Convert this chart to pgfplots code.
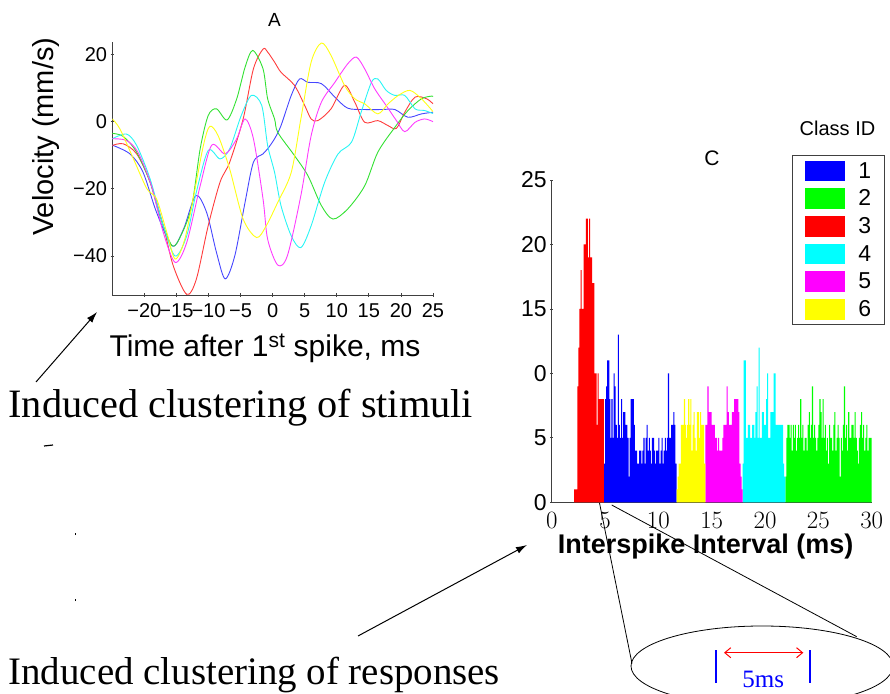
\documentclass[border=0pt]{standalone}
\usepackage{fontspec}
\setmainfont{Liberation Serif}
\newfontfamily\arial{Liberation Sans}
\usepackage{pgfplots}
\pgfplotsset{compat=1.18}
\usetikzlibrary{arrows.meta}
\definecolor{cgreen}{RGB}{0,255,0}
\definecolor{cblue}{RGB}{0,0,255}
\definecolor{cred}{RGB}{255,0,0}
\definecolor{ccyan}{RGB}{0,255,255}
\definecolor{cmag}{RGB}{255,0,255}
\definecolor{cyel}{RGB}{255,255,0}
\definecolor{lblue}{RGB}{70,70,255}
\definecolor{lred}{RGB}{255,60,60}
\definecolor{lgreen}{RGB}{50,225,50}
\definecolor{lcyan}{RGB}{40,245,245}
\definecolor{lmag}{RGB}{255,60,255}
\definecolor{lyel}{RGB}{255,255,20}
\begin{document}
\begin{tikzpicture}[x=1pt,y=1pt]
\path[use as bounding box] (0,0) rectangle (890,693);
% ---------------- Panel A ----------------
\begin{axis}[at={(112.3pt,398pt)}, anchor=south west, scale only axis,
  width=320.7pt, height=253pt,
  xmin=-25, xmax=25, ymin=-51.6, ymax=23.7,
  axis lines=left, axis line style={-, black!75, line width=0.8pt},
  xtick={-20,-15,...,25}, xticklabels={−20,−15,−10,−5,0,5,10,15,20,25},
  ytick={-40,-20,0,20}, yticklabels={−40,−20,0,20},
  tick style={black!75, line width=0.8pt}, major tick length=3.5pt,
  tick label style={font=\arial\fontsize{20}{20}\selectfont},
  xticklabel shift=3.5pt,
]
\addplot[lblue, line width=0.9pt, smooth] coordinates {(-25,-7.0) (-22.25,-9.6) (-20.2,-15.1) (-18.1,-27) (-15.65,-37) (-13.9,-32) (-12.0,-22) (-10.3,-27) (-8.75,-39) (-7.4,-46.8) (-5.9,-39.9) (-4.3,-24) (-3.0,-12.1) (-1.5,-9.6) (-0.78,-8.1) (0.3,-5.1) (1.3,-1.2) (2.9,7.8) (4.2,12.7) (5.5,11.7) (7.6,11.3) (9.7,7.3) (11.7,4.0) (14.35,3.6) (17.0,3.6) (19.05,3.6) (21.1,1.3) (23.2,2.3) (25,2.8)};
\addplot[lred, line width=0.9pt, smooth] coordinates {(-25,-7.1) (-23.3,-6.6) (-21.2,-9.6) (-19.1,-18) (-17.05,-31) (-15.5,-42.9) (-13.4,-51.4) (-11.9,-46.9) (-10.05,-31) (-8.2,-18) (-6.7,-12.1) (-4.6,0.8) (-3.0,15.7) (-1.5,21.6) (-0.78,20.7) (0.3,17.7) (1.3,14.7) (3.4,10.8) (5.0,4.8) (6.0,0.8) (7.05,0.3) (9.1,3.8) (11.2,10.8) (12.8,5.8) (14.35,-0.2) (16.4,0.3) (18.0,-1.2) (19.3,-2.0) (20.6,2.8) (22.2,7.3) (24.0,6.8) (25,5.3)};
\addplot[lgreen, line width=0.9pt, smooth] coordinates {(-25,-3.5) (-23.3,-4.4) (-21.2,-9.1) (-19.1,-18.1) (-17.6,-28) (-15.65,-37) (-14.2,-33.5) (-12.6,-25) (-11.3,-8.1) (-10.05,1.8) (-8.75,3.8) (-7.1,0.5) (-5.6,6.8) (-4.3,16.2) (-3.1,21.2) (-1.5,15.7) (-0.78,6.8) (0.3,0.8) (0.8,-3.2) (3.4,-10.1) (5.5,-16.1) (7.6,-25) (9.4,-29) (11.7,-26) (14.35,-19.1) (16.4,-9.1) (19.05,-1.7) (21.1,3.3) (23.2,6.8) (24.8,7.6) (25,7.4)};
\addplot[lcyan, line width=0.9pt, smooth] coordinates {(-25,-5.1) (-22.8,-3.7) (-21.2,-7.1) (-19.1,-17.1) (-17.05,-31) (-15.2,-40) (-13.4,-34) (-11.9,-21) (-10.05,-8.6) (-8.2,-11.1) (-6.7,-8.1) (-4.9,1.8) (-3.3,7.8) (-1.7,4.8) (-0.78,-7.1) (0.3,-15.1) (1.3,-25) (2.9,-34) (4.4,-37.5) (6.0,-31) (8.1,-18.1) (10.2,-9.6) (12.3,-6.1) (13.8,2.8) (15.4,11.7) (16.4,12.7) (17.7,9.3) (19.05,7.8) (20.6,7.8) (22.2,3.8) (23.7,3.3) (25,2.4)};
\addplot[lmag, line width=0.9pt, smooth] coordinates {(-25,-5.1) (-22.8,-5.6) (-21.0,-9.1) (-18.9,-19.1) (-17.05,-33) (-15.2,-41.9) (-13.4,-36) (-11.3,-19.1) (-9.5,-7.0) (-7.4,-9.6) (-5.6,-5.1) (-4.3,0.8) (-3.0,-5.1) (-1.5,-23) (-0.78,-35) (0.8,-42.7) (2.3,-39.9) (4.4,-22) (6.0,-4.2) (7.6,5.8) (9.7,11.7) (11.7,17.2) (13.05,19.2) (14.35,15.7) (15.9,9.8) (17.7,4.8) (19.3,0.3) (20.6,-3.0) (22.2,-0.2) (23.7,0.8) (25,0.0)};
\addplot[lyel, line width=0.9pt, smooth] coordinates {(-25,0.8) (-23.8,-2.2) (-21.7,-11.1) (-19.6,-20) (-18.1,-23) (-16.5,-33) (-15.2,-40.9) (-13.7,-35) (-12.1,-20) (-10.8,-7.1) (-9.8,-1.4) (-8.5,-4.2) (-6.7,-14.1) (-4.6,-29) (-2.5,-34.5) (-1.0,-31) (0.8,-24) (2.9,-15.1) (4.4,0.8) (6.0,17.7) (7.6,23.4) (9.1,19.7) (11.2,10.8) (12.8,6.8) (14.35,5.3) (16.4,2.3) (18.0,5.3) (19.6,7.8) (21.4,9.3) (23.2,6.8) (25,3.0)};
\end{axis}
% ---------------- Panel C ----------------
\begin{axis}[at={(551.7pt,190.7pt)}, anchor=south west, scale only axis,
  width=320pt, height=322.3pt,
  xmin=0, xmax=30, ymin=0, ymax=25,
  axis lines=left, axis line style={-, black!75, line width=0.8pt},
  xtick={0,5,...,30}, ytick={0,5,...,25}, yticklabels={0,5,0,15,20,25},
  x tick style={draw=none}, y tick style={black!75, line width=0.8pt},
  major tick length=3pt,
  tick label style={font=\arial\fontsize{23}{23}\selectfont},
  xticklabel shift=5pt,
  legend image code/.code={\fill[#1] (0pt,-10.35pt) rectangle (40pt,10.35pt); \path (53pt,0pt);},
  legend style={at={(0.75,1.0776)}, anchor=north west, draw=black!75, line width=1.2pt,
    fill=white, inner xsep=13pt, inner ysep=5pt, row sep=7pt,
    font=\arial\fontsize{23}{23}\selectfont, nodes={inner sep=0pt}},
  legend cell align=left,
]
\addplot[fill=cblue, draw=none, const plot mark left] table[row sep=\\, x expr=4.9+0.1*\coordindex, y index=0] {3\\8\\9\\11\\11\\8\\5\\8\\5\\10\\9\\6\\5\\13\\6\\5\\8\\5\\7\\7\\6\\6\\5\\2\\5\\8\\8\\8\\6\\4\\4\\3\\3\\4\\4\\3\\4\\5\\3\\5\\6\\4\\5\\4\\3\\5\\5\\4\\3\\4\\4\\5\\3\\4\\5\\3\\4\\5\\4\\5\\10\\5\\5\\6\\6\\7\\6\\3\\3\\} \closedcycle;
\addlegendentry{1}
\addplot[fill=cgreen, draw=none, const plot mark left] table[row sep=\\, x expr=21.9+0.1*\coordindex, y index=0] {2\\5\\6\\6\\5\\6\\4\\6\\5\\6\\4\\5\\6\\5\\8\\5\\6\\4\\5\\5\\4\\6\\7\\5\\6\\9\\5\\6\\5\\4\\5\\6\\8\\7\\5\\8\\5\\6\\4\\5\\3\\6\\5\\5\\4\\6\\7\\4\\5\\6\\5\\2\\5\\4\\6\\9\\5\\6\\4\\7\\5\\5\\6\\6\\5\\7\\5\\4\\3\\5\\6\\7\\5\\6\\4\\5\\6\\4\\5\\5\\5\\5\\} \closedcycle;
\addlegendentry{2}
\addplot[fill=cred, draw=none, const plot mark left] table[row sep=\\, x expr=2.1+0.1*\coordindex, y index=0] {1\\1\\1\\9\\12\\15\\18\\15\\15\\20\\20\\22\\22\\19\\22\\19\\19\\17\\17\\10\\10\\6\\10\\8\\8\\8\\8\\8\\8\\} \closedcycle;
\addlegendentry{3}
\addplot[fill=ccyan, draw=none, const plot mark left] table[row sep=\\, x expr=17.9+0.1*\coordindex, y index=0] {3\\11\\11\\5\\5\\6\\6\\5\\5\\6\\6\\5\\7\\9\\5\\12\\5\\5\\7\\7\\6\\6\\8\\10\\5\\5\\7\\7\\7\\10\\10\\6\\6\\6\\6\\6\\6\\6\\3\\2\\2\\} \closedcycle;
\addlegendentry{4}
\addplot[fill=cmag, draw=none, const plot mark left] table[row sep=\\, x expr=14.4+0.1*\coordindex, y index=0] {6\\6\\9\\7\\7\\7\\6\\6\\6\\5\\5\\4\\5\\4\\4\\4\\5\\6\\6\\6\\9\\7\\6\\6\\6\\7\\7\\8\\8\\8\\8\\7\\3\\2\\1\\1\\} \closedcycle;
\addlegendentry{5}
\addplot[fill=cyel, draw=none, const plot mark left] table[row sep=\\, x expr=11.7+0.1*\coordindex, y index=0] {1\\2\\3\\3\\6\\6\\6\\8\\6\\5\\6\\8\\6\\8\\4\\6\\7\\5\\4\\7\\7\\5\\7\\6\\6\\6\\3\\3\\} \closedcycle;
\addlegendentry{6}
\end{axis}
% ---------------- Texts ----------------
\node[font=\arial\fontsize{19}{19}\selectfont, anchor=base] at (274.5,666) {A};
\node[font=\arial\fontsize{29}{29}\selectfont, rotate=90, anchor=base] at (53,556.3) {Velocity (mm/s)};
\node[font=\arial\fontsize{30}{30}\selectfont, anchor=base] at (265,336) {Time after 1\textsuperscript{st} spike, ms};
\node[font=\arial\fontsize{21}{21}\selectfont, anchor=base] at (712,527.3) {C};
\node[font=\arial\fontsize{20}{20}\selectfont, anchor=base] at (837.5,557) {Class ID};
\node[font=\arial\bfseries\fontsize{27}{27}\selectfont, anchor=base east] at (857,140) {Interspike Interval (ms)};
\node[font=\fontsize{40.3}{41}\selectfont, anchor=base west, inner sep=0pt] at (8.3,275.3) {Induced clustering of stimuli};
\node[font=\fontsize{38.9}{40}\selectfont, anchor=base west, inner sep=0pt] at (8.3,9) {Induced clustering of responses};
% arrows
\draw[line width=1pt, -{Latex[length=11pt,width=7pt]}] (36,311) -- (97,381);
\draw[line width=1pt, -{Latex[length=11pt,width=7pt]}] (358,57) -- (527,148);
% stray marks
\draw[line width=1.2pt] (44,247) -- (53,248);
\draw[line width=0.6pt] (75,158) -- (75,160);
\draw[line width=0.6pt] (75,92) -- (75,94);
% zoom lines and ellipse
\draw[line width=0.8pt] (599.5,190) -- (632,29.5);
\draw[line width=0.8pt] (611.7,188) -- (856.7,56.3);
\draw[line width=0.8pt] (762,27) ellipse [x radius=131, y radius=40];
\draw[blue, line width=2pt] (716,43) -- (716,10.3);
\draw[blue, line width=2pt] (810,43) -- (810,10.3);
\draw[red, line width=1pt, {Straight Barb[length=6pt,width=10pt]}-{Straight Barb[length=6pt,width=10pt]}] (724,40.3) -- (803.3,40.3);
\node[blue, font=\fontsize{25}{25}\selectfont, anchor=base] at (763.3,6) {5ms};
\end{tikzpicture}
\end{document}
